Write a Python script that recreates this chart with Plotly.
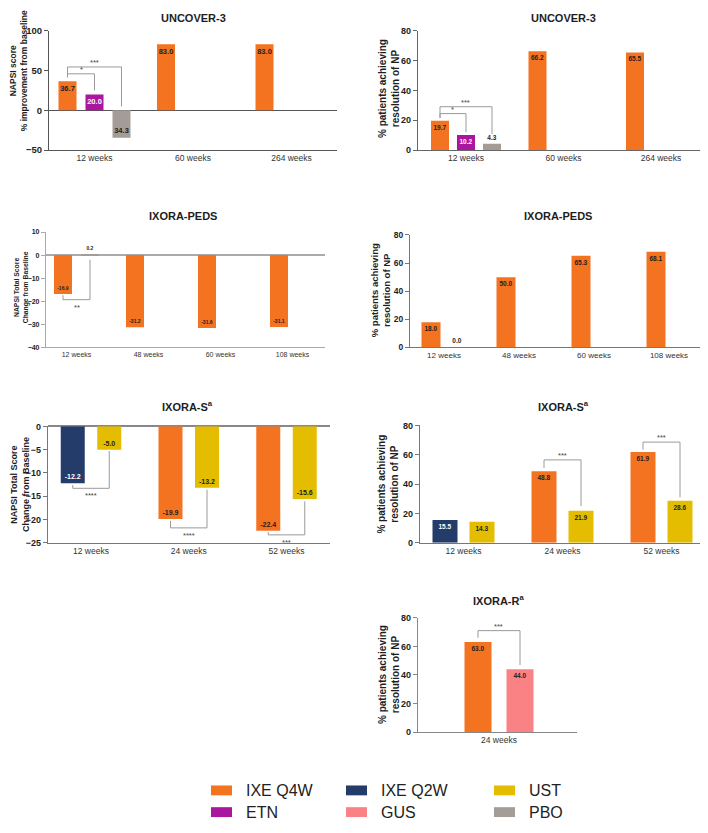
import plotly.graph_objects as go

# The page body keeps its default 8 px margin, so the figure is drawn 16 px
# smaller than the window and every pixel position below is given in window
# (reference) coordinates and shifted by OFF.
WIN_W, WIN_H = 708, 833
OFF = 8
FW, FH = WIN_W - 2 * OFF, WIN_H - 2 * OFF
FONT = "Liberation Sans, Arial, Helvetica, sans-serif"
DARK = "#1e1e1e"

# ---------------- data ----------------
u3_cats = ["12 weeks", "60 weeks", "264 weeks"]
u3_napsi_q4w = [36.7, 83.0, 83.0]
u3_napsi_etn = [20.0, None, None]
u3_napsi_pbo = [-34.3, None, None]
u3_napsi_pbo_labels = ["34.3", "", ""]
u3_np_q4w = [19.7, 66.2, 65.5]
u3_np_etn = [10.2, None, None]
u3_np_pbo = [4.3, None, None]

peds_cats = ["12 weeks", "48 weeks", "60 weeks", "108 weeks"]
peds_napsi_q4w = [-16.9, -31.2, -31.6, -31.1]
peds_napsi_pbo = [0.2, None, None, None]
peds_np_q4w = [18.0, 50.0, 65.3, 68.1]
peds_np_pbo = [0.0, None, None, None]

s_cats = ["12 weeks", "24 weeks", "52 weeks"]
s_napsi_q4w = [None, -19.9, -22.4]
s_napsi_q2w = [-12.2, None, None]
s_napsi_ust = [-5.0, -13.2, -15.6]
s_np_q4w = [None, 48.8, 61.9]
s_np_q2w = [15.5, None, None]
s_np_ust = [14.3, 21.9, 28.6]

r_cats = ["24 weeks"]
r_np_q4w = [63.0]
r_np_gus = [44.0]

treatments = ["IXE Q4W", "IXE Q2W", "UST", "ETN", "GUS", "PBO"]
COLORS = {"IXE Q4W": "#F47321", "IXE Q2W": "#243C69", "UST": "#E4BD00",
          "ETN": "#AA169E", "GUS": "#FA8284", "PBO": "#A49D97"}
TEXTCOL = {"IXE Q4W": DARK, "IXE Q2W": "white", "UST": DARK,
           "ETN": "white", "GUS": DARK, "PBO": DARK}

# ---------------- panel layout (pixel geometry) ----------------
panels = [
    dict(title="UNCOVER-3", ytitle="NAPSI score<br>% improvement from baseline",
         cats=u3_cats, ax=49, right=337, c0=94.5, sp=98.5, top=25, bot=146,
         yr=[-50, 100], dt=50, bw=18, slot=27, n=3, lab=7.5, tick=9.5, cat=8.5,
         yts=8.5, ytx=18, yty=66, tx=193, ty=12, line="#555", zero=True, zc="#555", zw=1.2,
         bars=[("IXE Q4W", u3_napsi_q4w, 0, None, "inside"),
               ("ETN", u3_napsi_etn, 1, None, "inside"),
               ("PBO", u3_napsi_pbo, 2, u3_napsi_pbo_labels, "inside")],
         brackets=[((0, 0), (0, 1), 45.9, 41.5, 25.0, "*", True),
                   ((0, 0), (0, 2), 54.5, 41.5, 5.0, "***", True)]),
    dict(title="UNCOVER-3", ytitle="% patients achieving<br>resolution of NP",
         cats=u3_cats, ax=418, right=706, c0=466, sp=97.5, top=25, bot=146,
         yr=[0, 80], dt=20, bw=18, slot=26, n=3, lab=6.5, tick=9, cat=8.5,
         yts=10, ytx=389, yty=84, tx=563, ty=12, line="#666", zero=False,
         bars=[("IXE Q4W", u3_np_q4w, 0, None, "inside"),
               ("ETN", u3_np_etn, 1, None, "inside"),
               ("PBO", u3_np_pbo, 2, None, "outside")],
         brackets=[((0, 0), (0, 1), 24.5, 21.5, 12.0, "*", True),
                   ((0, 0), (0, 2), 29.1, 21.5, 10.8, "***", True)]),
    dict(title="IXORA-PEDS", ytitle="NAPSI Total Score<br>Change from Baseline",
         cats=peds_cats, ax=46, right=325, c0=76.5, sp=72, top=229, bot=346,
         yr=[-40, 10], dt=10, bw=18, slot=27, n=2, lab=5, tick=7, cat=7,
         yts=6.8, ytx=21, yty=285, tx=183, ty=213, line="#aaa", zero=True, zc="#aaa", zw=1.5,
         bars=[("IXE Q4W", peds_napsi_q4w, 0, None, "inside"),
               ("PBO", peds_napsi_pbo, 1, None, "outside")],
         brackets=[((0, 0), (0, 1), -19.3, -17.4, -2.0, "**", False)]),
    dict(title="IXORA-PEDS", ytitle="% patients achieving<br>resolution of NP",
         cats=peds_cats, ax=410, right=703, c0=444, sp=75, top=232, bot=346,
         yr=[0, 80], dt=20, bw=19, slot=26, n=2, lab=6.5, tick=8.5, cat=8,
         yts=9.5, ytx=380, yty=288, tx=558, ty=213, line="#777", zero=False,
         bars=[("IXE Q4W", peds_np_q4w, 0, None, "inside"),
               ("PBO", peds_np_pbo, 1, None, "outside")],
         brackets=[]),
    dict(title="IXORA-S<sup>a</sup>", ytitle="NAPSI Total Score<br>Change from Baseline",
         cats=s_cats, ax=48, right=330, c0=91, sp=97.75, top=426, bot=544,
         yr=[-25, 0], dt=5, bw=24, slot=36.5, n=2, lab=7, tick=9, cat=8.5,
         yts=9, ytx=19.5, yty=485, tx=187, ty=405, line="#777", zero=True, zc="#888", zw=2,
         bars=[("IXE Q4W", s_napsi_q4w, 0, None, "inside"),
               ("IXE Q2W", s_napsi_q2w, 0, None, "inside"),
               ("UST", s_napsi_ust, 1, None, "inside")],
         brackets=[((0, 0), (0, 1), -13.3, -12.6, -5.3, "****", False),
                   ((1, 0), (1, 1), -21.8, -20.3, -13.6, "****", False),
                   ((2, 0), (2, 1), -23.3, -22.7, -16.1, "***", False)]),
    dict(title="IXORA-S<sup>a</sup>", ytitle="% patients achieving<br>resolution of NP",
         cats=s_cats, ax=420, right=705, c0=463.5, sp=99, top=425, bot=544,
         yr=[0, 80], dt=20, bw=25, slot=37, n=2, lab=6.5, tick=9, cat=8.5,
         yts=10, ytx=388, yty=485, tx=563, ty=405, line="#777", zero=False,
         bars=[("IXE Q4W", s_np_q4w, 0, None, "inside"),
               ("IXE Q2W", s_np_q2w, 0, None, "inside"),
               ("UST", s_np_ust, 1, None, "inside")],
         brackets=[((1, 0), (1, 1), 56.5, 51.0, 25.0, "***", True),
                   ((2, 0), (2, 1), 68.6, 63.5, 31.0, "***", True)]),
    dict(title="IXORA-R<sup>a</sup>", ytitle="% patients achieving<br>resolution of NP",
         cats=r_cats, ax=418, right=577, c0=499, sp=159, top=620, bot=736,
         yr=[0, 80], dt=20, bw=27, slot=42, n=2, lab=6.5, tick=9, cat=8.5,
         yts=10, ytx=389, yty=678, tx=498, ty=602, line="#888", zero=False,
         bars=[("IXE Q4W", r_np_q4w, 0, None, "inside"),
               ("GUS", r_np_gus, 1, None, "inside")],
         brackets=[((0, 0), (0, 1), 71.0, 66.0, 47.0, "***", True)]),
]

# legend grid (window pixels): swatch left edges per column, row centres
legend_cols = [211, 346, 494]
legend_rows = [795, 817]


def xp(p):
    return (p - OFF) / FW


def yp(p):
    return 1 - (p - OFF) / FH


fig = go.Figure()
shapes = []
annotations = []
layout_axes = {}

for i, P in enumerate(panels, start=1):
    sfx = "" if i == 1 else str(i)
    xref, yref = "x" + sfx, "y" + sfx
    sp = P["sp"]
    w = P["bw"] / sp
    slot = P["slot"] / sp
    n = P["n"]

    def slot_x(ci, si):
        return ci + (si - (n - 1) / 2) * slot

    for name, vals, si, labels, tpos in P["bars"]:
        if labels is None:
            labels = ["" if v is None else f"{v:.1f}" for v in vals]
        # keep only the categories where this treatment has a value
        keep = [k for k, v in enumerate(vals) if v is not None]
        xs = [P["cats"][k] for k in keep]
        ys = [vals[k] for k in keep]
        ts = [labels[k] for k in keep]
        center = (si - (n - 1) / 2) * slot
        fig.add_trace(go.Bar(
            x=xs, y=ys, name=name, xaxis=xref, yaxis=yref,
            width=w, offset=center - w / 2,
            marker=dict(color=COLORS[name], line=dict(width=0)),
            text=ts, textposition=tpos, insidetextanchor="end", textangle=0,
            constraintext="none", cliponaxis=False,
            textfont=dict(family=FONT, size=P["lab"], weight="bold",
                          color=TEXTCOL[name] if tpos == "inside" else DARK),
            showlegend=False, hoverinfo="skip",
        ))

    r0 = (P["ax"] - P["c0"]) / sp
    r1 = (min(P["right"], WIN_W - OFF) - P["c0"]) / sp
    layout_axes["xaxis" + sfx] = dict(
        domain=[xp(P["ax"]), min(1.0, xp(P["right"]))], anchor=yref, type="category",
        categoryorder="array", categoryarray=P["cats"], range=[r0, r1],
        showline=True, linecolor=P["line"], linewidth=1.2, ticks="",
        showgrid=False, zeroline=False,
        tickfont=dict(family=FONT, size=P["cat"], color="#333"))
    layout_axes["yaxis" + sfx] = dict(
        domain=[yp(P["bot"]), yp(P["top"])], anchor=xref, range=P["yr"],
        tick0=0, dtick=P["dt"], showline=True, linecolor=P["line"], linewidth=1.2,
        ticks="outside", ticklen=4, tickcolor=P["line"], tickwidth=1,
        showgrid=False, zeroline=P["zero"],
        zerolinecolor=P.get("zc", "#555"), zerolinewidth=P.get("zw", 1),
        tickfont=dict(family=FONT, size=P["tick"], color=DARK, weight="bold"))

    for (c1, s1), (c2, s2), lev, le, re, stars, up in P["brackets"]:
        x1, x2 = slot_x(c1, s1), slot_x(c2, s2)
        for (a, b, c, d) in [(x1, le, x1, lev), (x1, lev, x2, lev), (x2, lev, x2, re)]:
            shapes.append(dict(type="line", xref=xref, yref=yref, x0=a, y0=b, x1=c, y1=d,
                               line=dict(color="#9a9a9a", width=1)))
        annotations.append(dict(
            x=(x1 + x2) / 2, y=lev, xref=xref, yref=yref, text=stars, showarrow=False,
            yanchor="bottom" if up else "top", yshift=-2 if up else -1,
            font=dict(family=FONT, size=7.5, color="#444")))

    annotations.append(dict(
        x=xp(P["tx"]), y=yp(P["ty"]), xref="paper", yref="paper", text=P["title"],
        showarrow=False, xanchor="center", yanchor="middle",
        font=dict(family=FONT, size=11, color=DARK, weight="bold")))
    annotations.append(dict(
        x=xp(P["ytx"]), y=yp(P["yty"]), xref="paper", yref="paper", text=P["ytitle"],
        showarrow=False, xanchor="center", yanchor="middle", textangle=-90,
        font=dict(family=FONT, size=P["yts"], color=DARK, weight="bold")))

# legend (swatch + label) laid out as a 3-column grid
for k, name in enumerate(treatments):
    col, row = legend_cols[k % 3], legend_rows[k // 3]
    shapes.append(dict(type="rect", xref="paper", yref="paper",
                       x0=xp(col), x1=xp(col + 21), y0=yp(row + 5), y1=yp(row - 5),
                       fillcolor=COLORS[name], line=dict(width=0)))
    annotations.append(dict(x=xp(col + 33), y=yp(row), xref="paper", yref="paper",
                            text=name, showarrow=False, xanchor="left", yanchor="middle",
                            font=dict(family=FONT, size=16, color="#222")))

fig.update_layout(
    width=FW, height=FH, autosize=False,
    margin=dict(l=0, r=0, t=0, b=0),
    paper_bgcolor="white", plot_bgcolor="white",
    font=dict(family=FONT, color=DARK),
    barmode="overlay", showlegend=False,
    shapes=shapes, annotations=annotations,
    **layout_axes,
)

fig.write_html("out.html")
